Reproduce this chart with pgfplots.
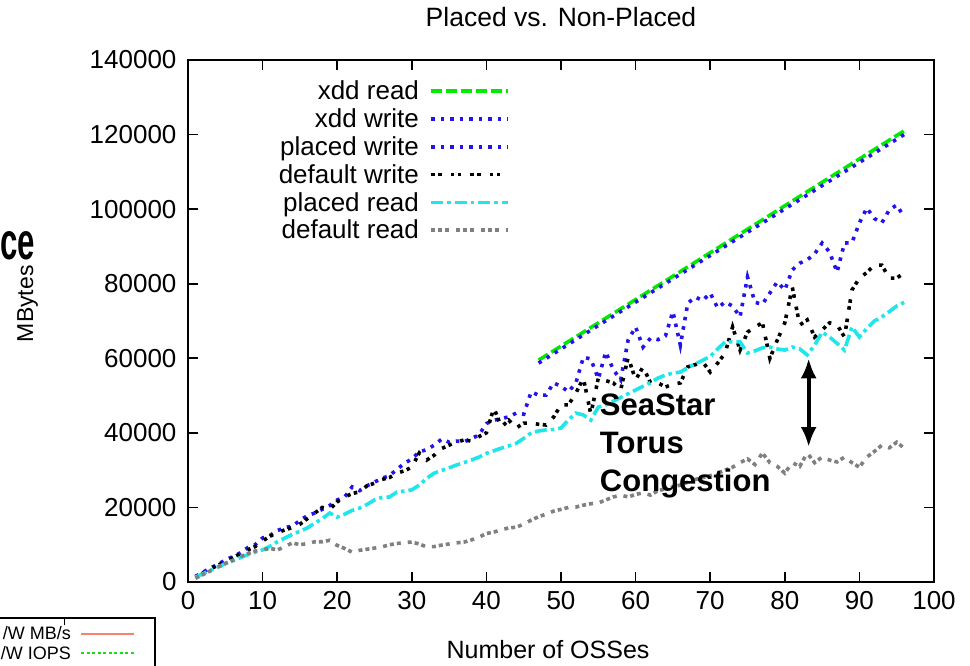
\documentclass[border=0pt]{standalone}
\usepackage{fontspec}
\setmainfont{Liberation Sans}
\usepackage{pgfplots}
\pgfplotsset{compat=1.18}
\usetikzlibrary{arrows.meta}
\definecolor{cgreen}{RGB}{0,235,0}
\definecolor{cblue}{RGB}{35,20,235}
\definecolor{ccyan}{RGB}{30,230,235}
\definecolor{cgray}{RGB}{128,128,128}
\definecolor{csalmon}{RGB}{250,128,114}
\definecolor{clgreen}{RGB}{20,225,20}
\begin{document}
\begin{tikzpicture}
\path[use as bounding box] (0pt,0pt) rectangle (970pt,665pt);
% fragments of surrounding slide
\node[anchor=west, font=\fontsize{52}{60}\selectfont\bfseries, xscale=0.6, inner sep=0pt] at (0pt,419pt) {ce};
\draw[line width=1.2pt] (-5pt,47pt) -- (155pt,47pt) -- (155pt,-10pt);
\draw[line width=1pt] (64pt,47pt) -- (64pt,40pt);
\node[anchor=east, font=\fontsize{18}{20}\selectfont, inner sep=0pt] at (71pt,32pt) {/W MB/s};
\node[anchor=east, font=\fontsize{18}{20}\selectfont, inner sep=0pt] at (71pt,12pt) {/W IOPS};
\draw[csalmon, line width=1.1pt] (81pt,31pt) -- (134pt,31pt);
\draw[clgreen, line width=1.2pt, dash pattern=on 3pt off 2.5pt] (81pt,12pt) -- (134pt,12pt);
\begin{axis}[
  at={(188pt,83pt)}, anchor=south west,
  scale only axis, width=746pt, height=522pt,
  xmin=0, xmax=100, ymin=0, ymax=140000,
  xtick={0,10,...,100}, ytick={0,20000,...,140000},
  scaled y ticks=false,
  /pgf/number format/.cd, fixed, precision=0, 1000 sep={}, assume math mode=true,
  /pgfplots/.cd,
  tick align=inside, major tick length=10pt,
  every tick/.style={black, line width=1.6pt},
  axis line style={line width=2.4pt},
  tick label style={font=\fontsize{26}{30}\selectfont},
  yticklabel style={xshift=-8pt},
  xticklabel style={yshift=-6pt},
  title={Placed vs. Non-Placed},
  title style={font=\fontsize{26.5}{30}\selectfont, at={(axis description cs:0.5,1.071)}, anchor=center},
  xlabel={Number of OSSes},
  xlabel style={font=\fontsize{25}{30}\selectfont, at={(axis description cs:0.4826,-0.13)}, anchor=center},
  ylabel={MBytes},
  ylabel style={font=\fontsize{23}{28}\selectfont, at={(axis description cs:-0.215,0.533)}, anchor=center, rotate=0},
  legend cell align=right,
  legend plot pos=right,
  legend style={draw=none, fill=none, at={(axis description cs:0.436,0.967)}, anchor=north east,
    font=\fontsize{26}{30}\selectfont, row sep=4.5pt, column sep=9pt, nodes={inner sep=1.5pt}},
  legend image code/.code={\draw[#1] (0pt,0pt) -- (77pt,0pt);},
  every axis plot/.append style={line width=3.6pt},
]
\addplot[cgreen, dash pattern=on 11pt off 4pt] coordinates {
(47,59500) (55,69500) (65,82000) (75,94600) (85,107200) (96,121000)};
\addlegendentry{xdd read}
\addplot[cblue, dash pattern=on 3.5pt off 6pt] coordinates {
(47,58700) (55,68800) (65,81300) (75,93800) (85,106300) (96,120000)};
\addlegendentry{xdd write}
\addplot[cblue, dash pattern=on 3.5pt off 6pt] coordinates {
(1,1500) (2,2600) (3,3800) (4,4700) (5,5900) (6,6800) (7,7800) (8,9200) (9,10000) (10,11800)
(11,12500) (12,13800) (13,14600) (14,15000) (15,16500) (16,17800) (17,18500) (18,19500) (19,20500) (20,22000)
(21,22800) (22,25500) (23,24500) (24,25800) (25,26800) (26,27800) (27,28500) (28,30200) (29,31800) (30,33000)
(31,34900) (32,35500) (33,36700) (34,38300) (35,37500) (36,37800) (37,37600) (38,38500) (39,39400) (40,42500)
(41,43400) (42,43800) (43,44300) (44,45300) (45,45000) (46,51000) (47,50100) (48,50100) (49,53400) (50,52500)
(51,51000) (52,53400) (53,60300) (54,59800) (55,54500) (56,61700) (57,57000) (58,54200) (59,64900) (60,68400)
(61,63000) (62,65400) (63,65000) (64,66000) (65,72500) (66,63500) (67,74800) (68,76400) (69,75500) (70,77500)
(71,73500) (72,75100) (73,74000) (74,71100) (75,81800) (76,75000) (77,74500) (78,77500) (79,80500) (80,78300)
(81,83700) (82,85500) (83,86400) (84,88000) (85,90900) (86,88500) (87,83100) (88,90900) (89,91000) (90,96300)
(91,100300) (92,97500) (93,96300) (94,99800) (95,101100) (96,97900)};
\addlegendentry{placed write}
\addplot[black, dash pattern=on 3.5pt off 3.5pt on 3.5pt off 9pt] coordinates {
(1,1300) (2,2400) (3,3500) (4,4500) (5,5500) (6,6500) (7,7600) (8,8600) (9,9500) (10,11000)
(11,12300) (12,13200) (13,14000) (14,14600) (15,15500) (16,17000) (17,18500) (18,20000) (19,19500) (20,21500)
(21,22800) (22,23700) (23,24200) (24,25800) (25,26500) (26,27500) (27,28000) (28,29200) (29,29800) (30,30800)
(31,34600) (32,32700) (33,34000) (34,35800) (35,36700) (36,37500) (37,38100) (38,37800) (39,39000) (40,40000)
(41,46700) (42,41600) (43,43400) (44,41300) (45,42600) (46,42600) (47,42300) (48,42100) (49,44200) (50,47500)
(51,47500) (52,50700) (53,54700) (54,45000) (55,54700) (56,54000) (57,53400) (58,51500) (59,60300) (60,54200)
(61,57700) (62,53400) (63,53400) (64,52300) (65,53000) (66,53400) (67,57700) (68,58300) (69,59000) (70,56300)
(71,58700) (72,61400) (73,68400) (74,62200) (75,67000) (76,68400) (77,69500) (78,60000) (79,64900) (80,69500)
(81,79100) (82,68900) (83,70300) (84,65700) (85,67600) (86,69500) (87,69000) (88,65700) (89,78300) (90,81500)
(91,83000) (92,85000) (93,85000) (94,81500) (95,81500) (96,82900)};
\addlegendentry{default write}
\addplot[ccyan, dash pattern=on 12pt off 4pt on 3.5pt off 4pt] coordinates {
(1,1300) (2,2200) (3,3100) (4,4000) (5,4900) (6,5700) (7,6500) (8,7300) (9,8000) (10,8600)
(11,9600) (12,10800) (13,11800) (14,12800) (15,13600) (16,14500) (17,15800) (18,17000) (19,18500) (20,17400)
(21,18200) (22,19200) (23,19800) (24,20800) (25,22000) (26,22700) (27,22800) (28,24100) (29,24400) (30,24700)
(31,26000) (32,27800) (33,29200) (34,29900) (35,30600) (36,31400) (37,32000) (38,32700) (39,33500) (40,34500)
(41,35200) (42,35900) (43,36500) (44,37200) (45,38500) (46,40000) (47,40500) (48,40800) (49,40900) (50,41300)
(51,43500) (52,45300) (53,44800) (54,43400) (55,46900) (56,47500) (57,48500) (58,49500) (59,50500) (60,51500)
(61,52500) (62,53500) (63,54700) (64,55500) (65,56000) (66,56300) (67,57500) (68,58500) (69,59500) (70,60500)
(71,62500) (72,64400) (73,64400) (74,64400) (75,61400) (76,62000) (77,62800) (78,63000) (79,62500) (80,62200)
(81,63000) (82,62500) (83,60900) (84,63500) (85,67000) (86,65700) (87,64000) (88,62200) (89,68400) (90,65700)
(91,68000) (92,70000) (93,71100) (94,72500) (95,74000) (96,75000)};
\addlegendentry{placed read}
\addplot[cgray, dash pattern=on 4pt off 3pt on 4pt off 3pt on 4pt off 7pt] coordinates {
(1,1000) (2,2000) (3,3000) (4,4000) (5,5000) (6,5800) (7,6800) (8,7600) (9,8300) (10,8600)
(11,9000) (12,8600) (13,9500) (14,10500) (15,10000) (16,10300) (17,10800) (18,10800) (19,11200) (20,9800)
(21,9000) (22,8000) (23,8500) (24,8800) (25,9100) (26,9400) (27,10000) (28,10300) (29,10600) (30,10700)
(31,10200) (32,9400) (33,9500) (34,9900) (35,10200) (36,10500) (37,10700) (38,11300) (39,12000) (40,13000)
(41,13400) (42,14000) (43,14500) (44,14700) (45,15500) (46,16600) (47,17500) (48,18200) (49,19000) (50,19500)
(51,20000) (52,20100) (53,20600) (54,21000) (55,21200) (56,22000) (57,22800) (58,23300) (59,22800) (60,23500)
(61,23900) (62,23300) (63,24500) (64,25000) (65,25500) (66,26000) (67,26800) (68,27500) (69,28000) (70,28500)
(71,29200) (72,30000) (73,30800) (74,32000) (75,33000) (76,31500) (77,34600) (78,32000) (79,31000) (80,29200)
(81,32000) (82,31000) (83,34600) (84,32000) (85,33500) (86,32700) (87,32200) (88,33500) (89,32000) (90,30800)
(91,33500) (92,35000) (93,36700) (94,36000) (95,37500) (96,35900)};
\addlegendentry{default read}
\node[anchor=north west, align=left, font=\fontsize{31}{38}\selectfont\bfseries, inner sep=0pt] at (axis cs:55.2,50400) {SeaStar\\Torus\\Congestion};
\draw[black, line width=4pt, {Latex[length=20pt,width=16pt]}-{Latex[length=20pt,width=16pt]}] (axis cs:83.2,60000) -- (axis cs:83.2,36200);
\end{axis}
\end{tikzpicture}
\end{document}
